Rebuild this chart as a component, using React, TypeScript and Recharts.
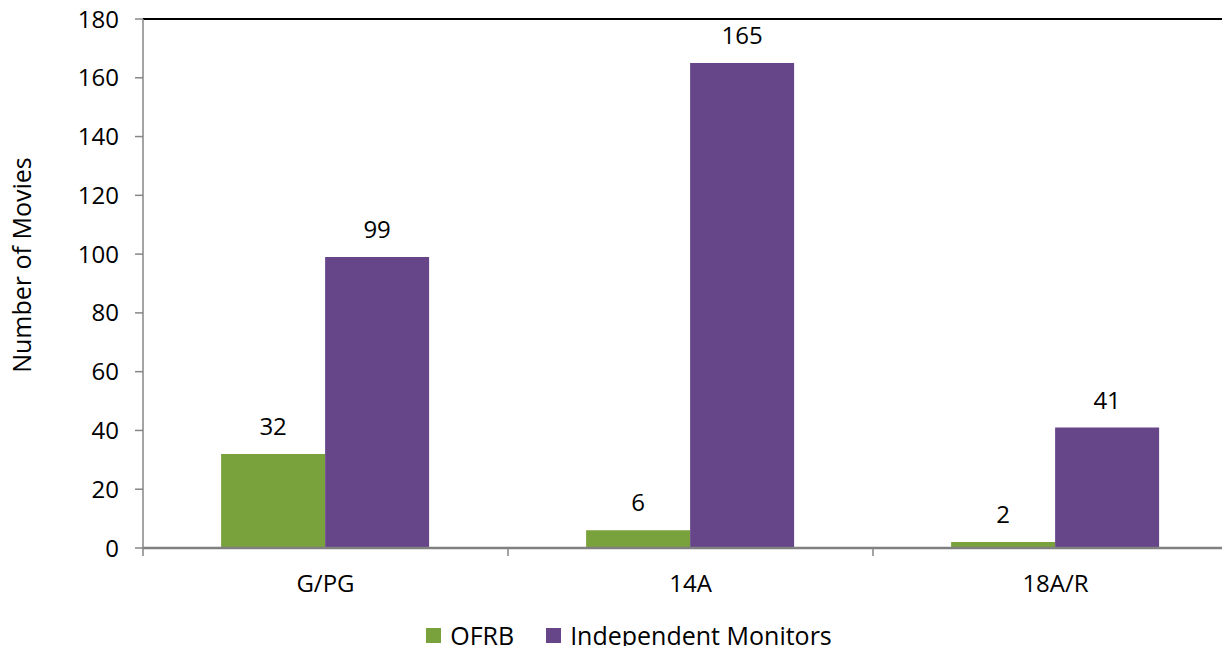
import React from 'react'
import { Bar, BarChart, LabelList, Legend, ReferenceLine, XAxis, YAxis } from 'recharts'

const categories = ['G/PG', '14A', '18A/R']
const ofrb = [32, 6, 2]
const independentMonitors = [99, 165, 41]
const yTicks = [0, 20, 40, 60, 80, 100, 120, 140, 160, 180]

const data = categories.map((name, i) => ({
  name,
  ofrb: ofrb[i],
  monitors: independentMonitors[i]
}))

const FONT = '"Open Sans", "DejaVu Sans", sans-serif'
const GREEN = '#79A23D'
const PURPLE = '#664589'

function CategoryTick(props: any) {
  const { x, y, payload, width, visibleTicksCount } = props
  const half = width / visibleTicksCount / 2
  return (
    <g>
      <line x1={x - half} y1={y} x2={x - half} y2={y + 8} stroke='#868686' strokeWidth={1.5} />
      {payload.index === visibleTicksCount - 1 && (
        <line x1={x + half} y1={y} x2={x + half} y2={y + 8} stroke='#868686' strokeWidth={1.5} />
      )}
      <text x={x} y={y + 44} textAnchor='middle' fontSize={24} fill='#000' fontFamily={FONT}>
        {payload.value}
      </text>
    </g>
  )
}

function LegendContent() {
  const items = [
    { label: 'OFRB', color: GREEN },
    { label: 'Independent Monitors', color: PURPLE }
  ]
  return (
    <div style={{ display: 'flex', justifyContent: 'center', fontFamily: FONT, fontSize: 25, lineHeight: '30px' }}>
      {items.map((it, i) => (
        <div key={it.label} style={{ display: 'flex', alignItems: 'center', marginLeft: i ? 32 : 0 }}>
          <span style={{ width: 15, height: 15, background: it.color, marginRight: 9, display: 'inline-block' }} />
          <span>{it.label}</span>
        </div>
      ))}
    </div>
  )
}

function App() {
  return (
    <div style={{ margin: -8, width: 1230, height: 654, overflow: 'hidden', background: '#fff' }}>
      <BarChart
        width={1240}
        height={654}
        data={data}
        margin={{ top: 19, right: 2, left: 0, bottom: 0 }}
        barCategoryGap='21.4%'
        barGap={0}
      >
        <ReferenceLine y={180} stroke='#000' strokeWidth={2} ifOverflow='extendDomain' />
        <XAxis
          dataKey='name'
          height={106}
          tickSize={0}
          tickMargin={0}
          tickLine={false}
          axisLine={{ stroke: '#808080', strokeWidth: 2.5 }}
          tick={<CategoryTick />}
          interval={0}
        />
        <YAxis
          width={143}
          domain={[0, 180]}
          ticks={yTicks}
          interval={0}
          tickSize={8}
          tickMargin={16}
          tickLine={{ stroke: '#868686', strokeWidth: 1.5 }}
          axisLine={{ stroke: '#868686', strokeWidth: 1.5 }}
          tick={{ fill: '#000', fontSize: 24, fontFamily: FONT }}
          label={() => (
            <text
              x={0}
              y={0}
              transform='translate(31, 265) rotate(-90)'
              textAnchor='middle'
              fontSize={25}
              fontFamily={FONT}
              fill='#000'
            >
              Number of Movies
            </text>
          )}
        />
        <Legend
          content={<LegendContent />}
          wrapperStyle={{ position: 'absolute', top: 620, left: 14, width: 1230, height: 0, overflow: 'visible' }}
        />
        <Bar dataKey='ofrb' name='OFRB' fill={GREEN} isAnimationActive={false}>
          <LabelList dataKey='ofrb' position='top' offset={19} fill='#000' fontSize={24} fontFamily={FONT} />
        </Bar>
        <Bar dataKey='monitors' name='Independent Monitors' fill={PURPLE} isAnimationActive={false}>
          <LabelList dataKey='monitors' position='top' offset={19} fill='#000' fontSize={24} fontFamily={FONT} />
        </Bar>
      </BarChart>
    </div>
  )
}

export default App
